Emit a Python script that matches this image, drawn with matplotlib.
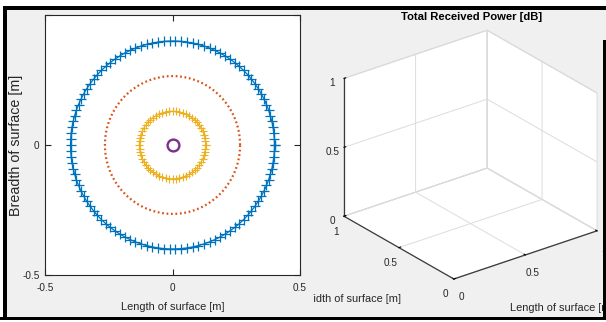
import numpy as np
import matplotlib
matplotlib.use("Agg")
import matplotlib.pyplot as plt
from matplotlib.patches import Rectangle
from matplotlib.transforms import Bbox, TransformedBbox

# ---------------- data ----------------
ring_radii = [0.40, 0.265, 0.13, 0.0]          # radius of each ring [m]
ring_points = [110, 100, 60, 1]                # number of plotted points per ring
ring_colors = ["#0072BD", "#D95319", "#EDB120", "#7E2F8E"]

left_ticks = [-0.5, 0.0, 0.5]
left_xticklabels = ["-0.5", "0", "0.5"]
left_yticklabels = ["-0.5", "0", ""]            # top label cropped away in the reference
cube_ticks = [0.0, 0.5, 1.0]
cube_ticklabels = ["0", "0.5", "1"]

left_xlabel = "Length of surface [m]"
left_ylabel = "Breadth of surface [m]"
right_title = "Total Received Power [dB]"
right_xlabel = "Length of surface [m]"
right_ylabel = "Width of surface [m]"

# ---------------- style ----------------
W, H, DPI = 606, 322, 100
SANS = ["Liberation Sans", "DejaVu Sans"]
plt.rcParams["font.family"] = SANS
plt.rcParams["grid.color"] = "#dcdcdc"
plt.rcParams["grid.linewidth"] = 0.7
AX_COL = "#262626"
BG = "#f0f0f0"

ring_styles = [
    dict(ls="-", lw=0.9, marker="+", ms=6.5, mew=0.9),
    dict(ls=(0, (0.8, 1.2)), lw=1.6, marker=None),
    dict(ls="-", lw=0.8, marker="+", ms=6.0, mew=0.8),
    dict(ls="none", marker="o", ms=8.5, mew=1.7, mfc="none"),
]

fig = plt.figure(figsize=(W / DPI, H / DPI), dpi=DPI, facecolor=BG)


def px_rect(x0, ytop, x1, ybot):
    return [x0 / W, 1 - ybot / H, (x1 - x0) / W, (ybot - ytop) / H]


# ---------------- left panel ----------------
ax = fig.add_axes(px_rect(45, 15, 300, 275))
ax.set_facecolor("white")
for r, n, c, st in zip(ring_radii, ring_points, ring_colors, ring_styles):
    t = np.linspace(0, 2 * np.pi, n + 1) if n > 1 else np.array([0.0])
    ax.plot(r * np.cos(t), r * np.sin(t), color=c, **st)
ax.set_xlim(-0.5, 0.5)
ax.set_ylim(-0.5, 0.5)
ax.set_xticks(left_ticks, left_xticklabels)
ax.set_yticks(left_ticks, left_yticklabels)
ax.tick_params(direction="in", length=4, width=0.8, color=AX_COL, top=True, right=True,
               labelsize=7.2, labelcolor=AX_COL)
ax.tick_params(axis="x", pad=6)
ax.tick_params(axis="y", pad=4)
for s in ax.spines.values():
    s.set_color(AX_COL)
    s.set_linewidth(0.8)
ax.set_xlabel(left_xlabel, fontsize=7.9, color=AX_COL)
ax.xaxis.set_label_coords(0.5, -(307 - 275) / 260)
ax.xaxis.label.set_va("center")
ax.set_ylabel(left_ylabel, fontsize=10.3, color=AX_COL)
ax.yaxis.set_label_coords((16 - 45) / 255, 0.5)
ax.yaxis.label.set_va("center")

# ---------------- right panel (3D) ----------------
ax3 = fig.add_axes([0.5, 0.05, 0.5, 0.9], projection="3d")
ax3.set_proj_type("ortho")
ax3.view_init(elev=26, azim=-127.5)
ax3.set_box_aspect((1, 1, 0.85))
ax3.set_xlim(0, 1)
ax3.set_ylim(0, 1)
ax3.set_zlim(0, 1)
ax3.patch.set_visible(False)
for a in (ax3.xaxis, ax3.yaxis, ax3.zaxis):
    a.set_ticks(cube_ticks, cube_ticklabels)
    a.set_pane_color((1, 1, 1, 1))
    a.pane.set_edgecolor("#d4d4d4")
    a.pane.set_linewidth(0.8)
    a.line.set_color("#3a3a3a")
    a.line.set_linewidth(0.9)
    a._axinfo["tick"]["inward_factor"] = 0.0
    a._axinfo["tick"]["outward_factor"] = 0.15
    a._axinfo["tick"]["color"] = "#3a3a3a"
ax3.tick_params(labelsize=7.2, labelcolor=AX_COL)
ax3.tick_params(axis="x", pad=-1)
ax3.tick_params(axis="y", pad=-2)
ax3.tick_params(axis="z", pad=-3)

# fit the projected cube to its place in the picture
fig.canvas.draw()


def cube_px():
    M = ax3.get_proj()
    pts = []
    for x in (0, 1):
        for y in (0, 1):
            for z in (0, 1):
                v = M @ np.array([x, y, z, 1.0])
                pts.append((v[0] / v[3], v[1] / v[3]))
    return ax3.transData.transform(np.array(pts))


d = cube_px()
bb = ax3.get_position().transformed(fig.transFigure)
S = bb.width
cx, cy = bb.x0 + bb.width / 2, bb.y0 + bb.height / 2
ux = (d[:, 0] - cx) / S
uy = (d[:, 1] - cy) / S
tx0, tx1, ty_bot = 344, 597, H - 279
S2 = (tx1 - tx0) / (ux.max() - ux.min())
cx2 = tx0 - S2 * ux.min()
cy2 = ty_bot - S2 * uy.min()
ax3.set_position([(cx2 - S2 / 2) / W, (cy2 - S2 / 2) / H, S2 / W, S2 / H])

# texts of the right panel
fig.text(472 / W, 1 - 17 / H, right_title, ha="center", va="center",
         fontsize=8.1, fontweight="bold", color="black")
ty = fig.text(401 / W, 1 - 299 / H, right_ylabel, ha="right", va="center",
              fontsize=7.9, color=AX_COL)
ty.set_clip_box(TransformedBbox(Bbox([[313 / W, 0], [1, 1]]), fig.transFigure))
fig.text(510 / W, 1 - 308 / H, right_xlabel, ha="left", va="center",
         fontsize=7.9, color=AX_COL)

# screenshot frame
def frame(x0, y0, x1, y1, color):
    fig.add_artist(Rectangle((x0 / W, 1 - y1 / H), (x1 - x0) / W, (y1 - y0) / H,
                             transform=fig.transFigure, facecolor=color,
                             edgecolor="none", zorder=10))

frame(0, 0, W, 6, "white")
frame(0, 6, W, 10, "black")
frame(0, 6, 3, H, "white")
frame(3, 6, 7, 320, "black")
frame(0, 317, W, 320, "black")
frame(0, 320, W, H, "white")
frame(603, 40, W, 320, "black")

fig.savefig("out.png", dpi=DPI, facecolor=BG)
